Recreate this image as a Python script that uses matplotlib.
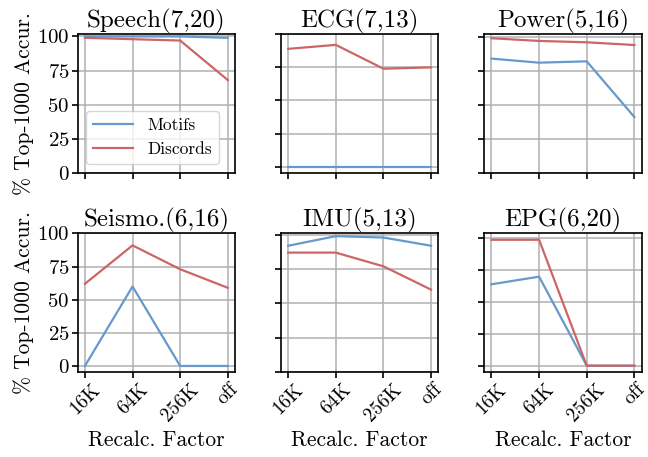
import matplotlib
matplotlib.use("Agg")
import matplotlib.pyplot as plt

plt.rcParams["font.family"] = "serif"
plt.rcParams["font.serif"] = ["cmr10"]
plt.rcParams["mathtext.fontset"] = "cm"
plt.rcParams["axes.formatter.use_mathtext"] = True

factors = ["16K", "64K", "256K", "off"]
titles = ["Speech(7,20)", "ECG(7,13)", "Power(5,16)",
          "Seismo.(6,16)", "IMU(5,13)", "EPG(6,20)"]

# accuracy per dataset, one value per recalculation factor
motifs = [
    [100, 100, 100, 99],
    [0, 0, 0, 0],
    [84, 81, 82, 41],
    [0, 60, 0, 0],
    [92, 99, 98, 92],
    [64, 70, 0, 0],
]
discords = [
    [99, 98, 97, 68],
    [89, 92, 74, 75],
    [99, 97, 96, 94],
    [62, 91, 73, 59],
    [87, 87, 77, 60],
    [99, 99, 0, 0],
]

blue = "#6699CC"
red = "#CC6666"

fig, axes = plt.subplots(2, 3, figsize=(6.48, 4.57), dpi=100)
fig.subplots_adjust(left=0.12, right=0.99, top=0.925, bottom=0.186,
                    wspace=0.293, hspace=0.438)

x = range(len(factors))
for i, ax in enumerate(axes.flat):
    ax.plot(x, motifs[i], color=blue, lw=1.6, label="Motifs")
    ax.plot(x, discords[i], color=red, lw=1.6, label="Discords")
    ax.set_title(titles[i], fontsize=18, pad=2)
    ax.set_yticks([0, 25, 50, 75, 100])
    ax.set_xticks(list(x))
    ax.grid(True, color="#b0b0b0", lw=1.1)
    ax.set_axisbelow(True)
    for s in ax.spines.values():
        s.set_linewidth(1.2)
    ax.tick_params(labelsize=15, width=1.2, length=4, pad=2)
    ax.tick_params(axis="x", labelsize=14)
    if i % 3 != 0:
        ax.set_yticklabels([])
    else:
        ax.set_ylabel(r"% Top-1000 Accur.", fontsize=15.5, labelpad=2)
    if i < 3:
        ax.set_xticklabels([])
    else:
        ax.set_xticklabels(factors, rotation=45)
        ax.set_xlabel("Recalc. Factor", fontsize=15.5, labelpad=4)

axes[0, 0].legend(loc="lower left", fontsize=12.5, handlelength=2.3)

fig.savefig("out.png", dpi=100)
